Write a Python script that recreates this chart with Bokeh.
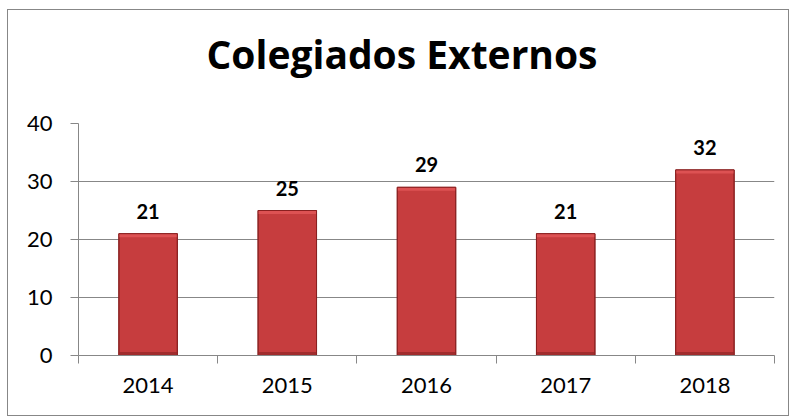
from bokeh.plotting import figure
from bokeh.models import ColumnDataSource, FixedTicker, LabelSet, Title
from bokeh.core.properties import value
from bokeh.embed import file_html
from bokeh.resources import INLINE

years = ["2014", "2015", "2016", "2017", "2018"]
values = [21, 25, 29, 21, 32]
y_ticks = [0, 10, 20, 30, 40]
title_text = "Colegiados Externos"

FONT = "Lato"
xs = [i + 0.5 for i in range(len(years))]
bev = 0.6
src = ColumnDataSource(dict(
    x=xs, top=values,
    cap_bottom=[v - bev for v in values],
    lab=[str(v) for v in values],
))

p = figure(width=782, height=407, x_range=(0, len(years)), y_range=(0, 40),
           output_backend="svg", toolbar_location=None,
           min_border_left=70, min_border_right=16, min_border_top=113, min_border_bottom=62)
p.title = None
p.styles = {"border": "1px solid #878787", "box-sizing": "border-box",
            "margin-left": "7px", "margin-top": "9px"}
p.outline_line_color = None
p.background_fill_color = "white"
p.border_fill_color = "white"

t = Title(text=title_text + "\n", align="left", offset=128, text_font="Open Sans",
          text_font_size="39px", text_font_style="bold", text_color="black",
          text_line_height=0.6, standoff=24)
p.add_layout(t, "above")

W = 0.42
p.vbar(x="x", top="top", bottom=0, width=W, source=src, fill_color="#c63d3e", line_color="#8a2020", line_width=1)
p.vbar(x="x", top=bev, bottom=0, width=W, source=src, fill_color="#a02c2d", line_color=None)
p.vbar(x="x", top="top", bottom="cap_bottom", width=W, source=src, fill_color="#dd5253", line_color=None)
p.vbar(x="x", top="top", bottom=0, width=W, source=src, fill_color=None, line_color="#8a2020", line_width=1)

labels = LabelSet(x="x", y="top", text="lab", source=src, text_align="center", text_baseline="bottom",
                  y_offset=15, text_font=value(FONT), text_font_size="20px", text_font_style="bold",
                  text_color="black")
p.add_layout(labels)

p.xaxis.ticker = FixedTicker(ticks=xs, minor_ticks=[float(i) for i in range(len(years) + 1)])
p.xaxis.major_label_overrides = {x: y for x, y in zip(xs, years)}
p.xaxis.major_tick_line_color = None
p.xaxis.minor_tick_line_color = "#878787"
p.xaxis.minor_tick_out = 8
p.xaxis.minor_tick_in = 0
p.xaxis.axis_line_color = "#878787"
p.xaxis.major_label_standoff = 14

p.yaxis.ticker = FixedTicker(ticks=y_ticks)
p.yaxis.minor_tick_line_color = None
p.yaxis.major_tick_out = 8
p.yaxis.major_tick_in = 0
p.yaxis.major_tick_line_color = "#878787"
p.yaxis.axis_line_color = "#878787"
p.yaxis.major_label_standoff = 18

for ax in (p.xaxis, p.yaxis):
    ax.major_label_text_font = FONT
    ax.major_label_text_font_size = "22px"
    ax.major_label_text_color = "black"

p.xgrid.grid_line_color = None
p.ygrid.grid_line_color = "#878787"
p.ygrid.grid_line_width = 1

open("out.html", "w").write(file_html(p, INLINE))
